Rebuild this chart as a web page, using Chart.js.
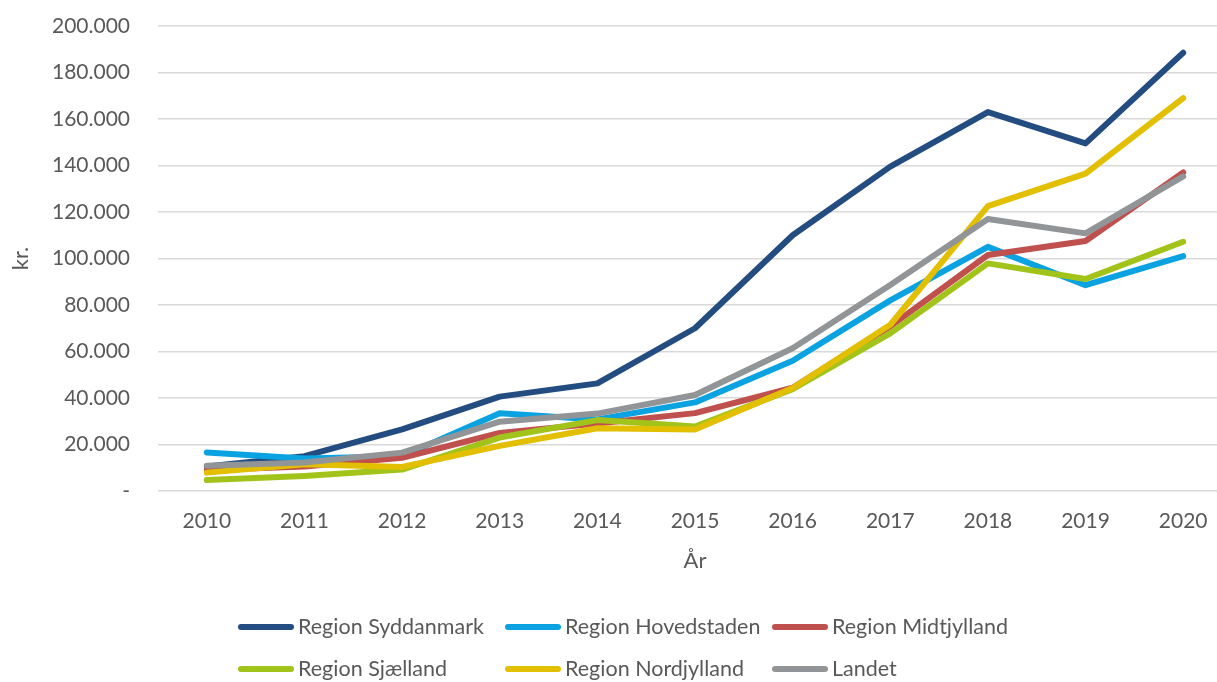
<!DOCTYPE html>
<html>
<head>
<meta charset="utf-8">
<script src="https://cdn.jsdelivr.net/npm/chart.js@4"></script>
<style>
  html, body { margin: 0; padding: 0; background: #fff; overflow: hidden; }
  #wrap { width: 1232px; height: 682px; }
</style>
</head>
<body>
<div id="wrap"><canvas id="chart" width="1232" height="682"></canvas></div>
<script>
// données
const years = ['2010', '2011', '2012', '2013', '2014', '2015', '2016', '2017', '2018', '2019', '2020'];
const seriesNames = ['Region Syddanmark', 'Region Hovedstaden', 'Region Midtjylland', 'Region Sjælland', 'Region Nordjylland', 'Landet'];
const syddanmark  = [10500, 15000, 26500, 40600, 46300, 70000, 110000, 139500, 163000, 149500, 188500];
const hovedstaden = [16600, 14000, 15000, 33400, 30800, 38100, 56000, 82000, 105000, 88500, 101000];
const midtjylland = [9000, 10500, 14300, 25000, 29000, 33500, 44400, 70800, 101500, 107500, 137000];
const sjaelland   = [4700, 6500, 9200, 23000, 30500, 27700, 43800, 67800, 97900, 91200, 107200];
const nordjylland = [7900, 11500, 10300, 19400, 27000, 26500, 44300, 71500, 122500, 136500, 169000];
const landet      = [10900, 12300, 16500, 29800, 33300, 41300, 61400, 88600, 117000, 110800, 135300];
const yTicks = [0, 20000, 40000, 60000, 80000, 100000, 120000, 140000, 160000, 180000, 200000];

const colors = ['#234C80', '#0AA2E0', '#C0504D', '#A2C41A', '#E2BF00', '#919598'];
const allValues = [syddanmark, hovedstaden, midtjylland, sjaelland, nordjylland, landet];
const textColor = '#595959';
const fontFamily = 'Lato, "Open Sans", sans-serif';

function formatKr(v) {
    if (v === 0) return '-';
    return String(v).replace(/\B(?=(\d{3})+(?!\d))/g, '.');
}

// légende en deux lignes, colonnes fixes
const customLegend = {
    id: 'customLegend',
    afterDraw(chart) {
        const ctx = chart.ctx;
        const colX = [238, 505, 772];
        const rowY = [627, 669];
        ctx.save();
        ctx.font = '21.5px ' + fontFamily;
        ctx.textBaseline = 'middle';
        ctx.textAlign = 'left';
        chart.data.datasets.forEach((ds, i) => {
            const x = colX[i % 3];
            const y = rowY[Math.floor(i / 3)];
            ctx.strokeStyle = ds.borderColor;
            ctx.lineWidth = 6;
            ctx.lineCap = 'round';
            ctx.beginPath();
            ctx.moveTo(x + 3, y);
            ctx.lineTo(x + 53, y);
            ctx.stroke();
            ctx.fillStyle = textColor;
            ctx.fillText(ds.label, x + 60, y);
        });
        ctx.restore();
    }
};

const ctx = document.getElementById('chart').getContext('2d');
const chart = new Chart(ctx, {
    type: 'line',
    data: {
        labels: years,
        datasets: seriesNames.map((name, i) => ({
            label: name,
            data: allValues[i],
            borderColor: colors[i],
            backgroundColor: colors[i],
            borderWidth: 6,
            borderCapStyle: 'round',
            borderJoinStyle: 'round',
            pointRadius: 0,
            tension: 0,
            fill: false,
            order: seriesNames.length - i // Landet dessiné au-dessus
        }))
    },
    options: {
        responsive: false,
        animation: false,
        layout: { padding: { top: 0, right: 0, bottom: 108, left: 8 } },
        plugins: {
            legend: { display: false },
            tooltip: { enabled: false }
        },
        scales: {
            x: {
                offset: true,
                grid: { display: false, drawTicks: false },
                border: { display: false },
                ticks: { color: textColor, font: { family: fontFamily, size: 21 }, padding: 18, maxRotation: 0 },
                title: { display: true, text: 'År', color: textColor, font: { family: fontFamily, size: 22 }, padding: { top: 0, bottom: 0 } },
                afterFit: (scale) => { scale.height = 83; }
            },
            y: {
                min: 0,
                max: 200000,
                afterBuildTicks: (scale) => { scale.ticks = yTicks.map(v => ({ value: v })); },
                grid: { color: '#D9D9D9', lineWidth: 1.5, drawTicks: false },
                border: { display: false },
                ticks: { color: textColor, font: { family: fontFamily, size: 21 }, padding: 28, callback: (v) => formatKr(v) },
                title: { display: true, text: 'kr.', color: textColor, font: { family: fontFamily, size: 22 }, padding: { top: 0, bottom: 0 } },
                afterFit: (scale) => {
                    scale.width = 150;
                    scale.paddingTop = 26; // la graduation 200.000 tombe à y=26
                    scale.paddingBottom = 0;
                }
            }
        }
    },
    plugins: [customLegend]
});
</script>
</body>
</html>
